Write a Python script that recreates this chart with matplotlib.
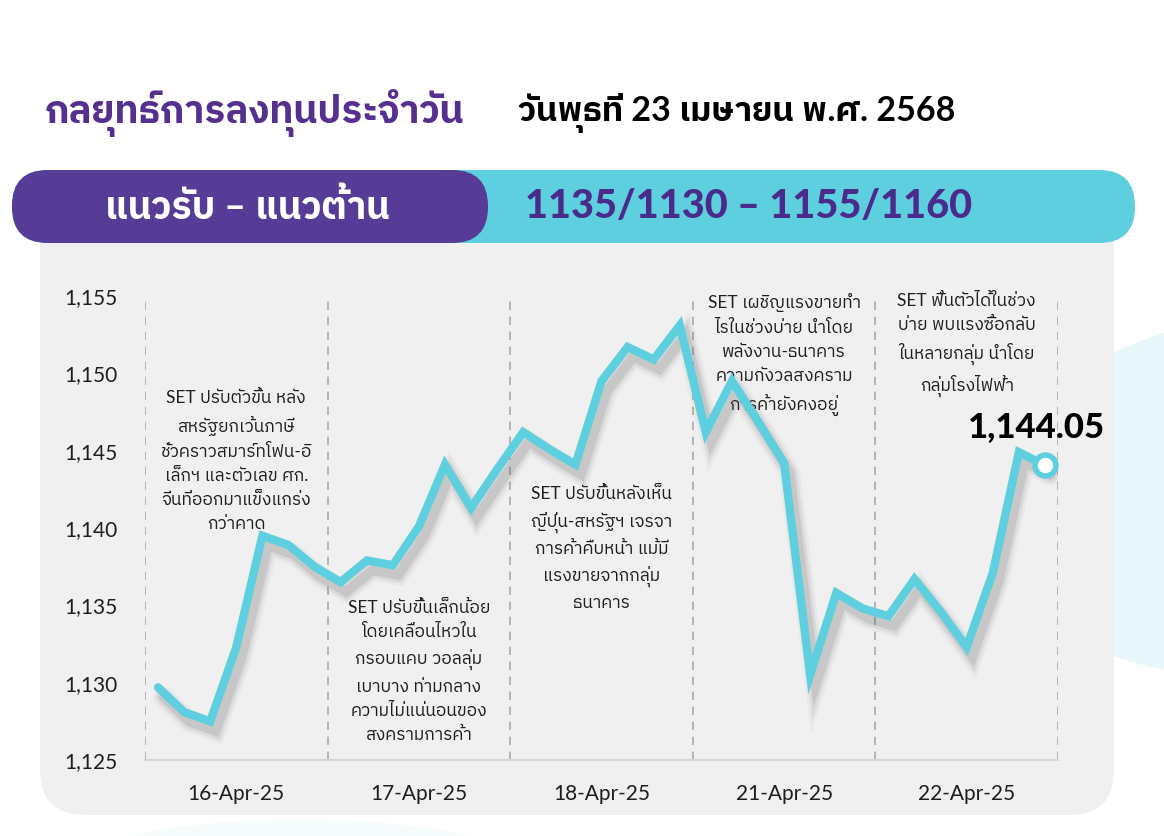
import matplotlib
matplotlib.use("Agg")
import matplotlib.pyplot as plt
import matplotlib.patheffects as pe
from matplotlib import font_manager, ft2font
from matplotlib.patches import FancyBboxPatch, Ellipse
from matplotlib.transforms import blended_transform_factory

# ---- data ----
days = ["16-Apr-25", "17-Apr-25", "18-Apr-25", "21-Apr-25", "22-Apr-25"]
pts_per_day = 7
set_index = [
    1129.7, 1128.1, 1127.5, 1132.3, 1139.5, 1138.9, 1137.5,
    1136.5, 1137.9, 1137.6, 1140.1, 1144.1, 1141.3, 1143.8,
    1146.2, 1145.1, 1144.1, 1149.5, 1151.7, 1150.9, 1153.1,
    1146.2, 1149.5, 1146.9, 1144.2, 1130.5, 1135.8, 1134.8,
    1134.3, 1136.7, 1134.6, 1132.3, 1137.1, 1144.9, 1144.05,
]
yticks = [1125, 1130, 1135, 1140, 1145, 1150, 1155]
last_label = "1,144.05"

notes = [
    "SET ปรับตัวขึ้น หลัง\nสหรัฐยกเว้นภาษี\nชั่วคราวสมาร์ทโฟน-อิ\nเล็กฯ และตัวเลข ศก.\nจีนที่ออกมาแข็งแกร่ง\nกว่าคาด",
    "SET ปรับขึ้นเล็กน้อย\nโดยเคลื่อนไหวใน\nกรอบแคบ วอลลุ่ม\nเบาบาง ท่ามกลาง\nความไม่แน่นอนของ\nสงครามการค้า",
    "SET ปรับขึ้นหลังเห็น\nญี่ปุ่น-สหรัฐฯ เจรจา\nการค้าคืบหน้า แม้มี\nแรงขายจากกลุ่ม\nธนาคาร",
    "SET เผชิญแรงขายทำ\nไรในช่วงบ่าย นำโดย\nพลังงาน-ธนาคาร\nความกังวลสงคราม\nการค้ายังคงอยู่",
    "SET ฟื้นตัวได้ในช่วง\nบ่าย พบแรงซื้อกลับ\nในหลายกลุ่ม นำโดย\nกลุ่มโรงไฟฟ้า",
]
note_top = [0.797, 0.345, 0.59, 1.007, 1.007]

title = "กลยุทธ์การลงทุนประจำวัน"
date_text = "วันพุธที่ 23 เมษายน พ.ศ. 2568"
band_left = "แนวรับ – แนวต้าน"
band_right = "1135/1130 – 1155/1160"

PURPLE = "#563C96"
TITLE_PURPLE = "#55308F"
CYAN = "#5ECFDF"


def find_thai_font():
    # prefer a loopless Thai face, like the one in the picture
    names = []
    for f in font_manager.fontManager.ttflist:
        try:
            if 0x0E01 in ft2font.FT2Font(f.fname).get_charmap():
                names.append(f.name)
        except Exception:
            continue
    for n in names:
        if "Thai" in n and "Looped" not in n:
            return n
    return names[0] if names else None


thai = find_thai_font()
plt.rcParams["font.family"] = ["Lato"] + ([thai] if thai else []) + ["DejaVu Sans"]

fig = plt.figure(figsize=(11.64, 8.36), dpi=100)

# background layer in pixel units
bg = fig.add_axes([0, 0, 1, 1], zorder=0)
bg.set_xlim(0, 1164)
bg.set_ylim(836, 0)
bg.axis("off")

bg.add_patch(Ellipse((1265, 495), 560, 360, angle=-6, color="#E7F7FA", lw=0))
bg.add_patch(Ellipse((300, 850), 380, 60, color="#F6FBFC", lw=0))
bg.add_patch(FancyBboxPatch((40 + 45, 200 + 45), 1074 - 90, 615 - 90,
                            boxstyle="round,pad=45", fc="#F0F0F0", ec="none"))
bg.add_patch(FancyBboxPatch((12, 170), 1123, 73,
                            boxstyle="round,pad=0,rounding_size=36", fc=CYAN, ec="none"))
bg.add_patch(FancyBboxPatch((12, 170), 476, 73,
                            boxstyle="round,pad=0,rounding_size=36", fc=PURPLE, ec="none"))

bg.text(45, 113, title, fontsize=27.5, color=TITLE_PURPLE, fontweight="bold",
        ha="left", va="center")
bg.text(518, 113, date_text, fontsize=24.5, color="black", fontweight="bold",
        ha="left", va="center")
bg.text(247, 207, band_left, fontsize=27, color="white", fontweight="bold",
        ha="center", va="center")
bg.text(749, 207, band_right, fontsize=28.5, color="#4A2A8A", fontweight="black",
        ha="center", va="center")

# ---- chart ----
ax = fig.add_axes([145 / 1164, 1 - 760 / 836, 913 / 1164, 464 / 836], zorder=2)
ax.patch.set_alpha(0)

x = list(range(len(set_index)))
shadow = [
    pe.SimpleLineShadow(offset=(4, -7), shadow_color="#555555", alpha=0.05, linewidth=15),
    pe.SimpleLineShadow(offset=(4, -7), shadow_color="#555555", alpha=0.09, linewidth=11),
    pe.SimpleLineShadow(offset=(4, -7), shadow_color="#555555", alpha=0.14, linewidth=7),
    pe.Normal(),
]
ax.plot(x, set_index, color=CYAN, lw=6, solid_joinstyle="miter",
        solid_capstyle="round", path_effects=shadow, zorder=3)
ax.plot(x[-1], set_index[-1], "o", ms=15, mfc="white", mec=CYAN, mew=4, zorder=4)
ax.annotate(last_label, (x[-1], set_index[-1]), xytext=(-6, 27),
            textcoords="offset points", ha="center", va="center",
            fontsize=25, fontweight="black", color="black", zorder=5)

n_days = len(days)
ax.set_xlim(-0.5, n_days * pts_per_day - 0.5)
ax.set_ylim(yticks[0], yticks[-1])

for d in range(n_days + 1):
    ax.axvline(d * pts_per_day - 0.5, color="#AAAAAA", lw=1.2,
               ls=(0, (5, 4)), zorder=1)

centers = [d * pts_per_day + (pts_per_day - 1) / 2 for d in range(n_days)]
ax.set_xticks(centers)
ax.set_xticklabels(days)
ax.set_yticks(yticks)
ax.set_yticklabels([f"{v:,}" for v in yticks])
ax.tick_params(axis="both", length=0, labelsize=15, colors="#1E1E1E")
ax.tick_params(axis="y", pad=20)
ax.tick_params(axis="x", pad=17)

for s in ["top", "right", "left"]:
    ax.spines[s].set_visible(False)
ax.spines["bottom"].set_color("#D6D6D6")
ax.spines["bottom"].set_linewidth(1.5)

tr = blended_transform_factory(ax.transData, ax.transAxes)
for c, txt, top in zip(centers, notes, note_top):
    ax.text(c, top, txt, transform=tr, ha="center", va="top", fontsize=12.5,
            color="#1E1E1E", linespacing=1.62, clip_on=False, zorder=2)

fig.savefig("out.png", dpi=100)
